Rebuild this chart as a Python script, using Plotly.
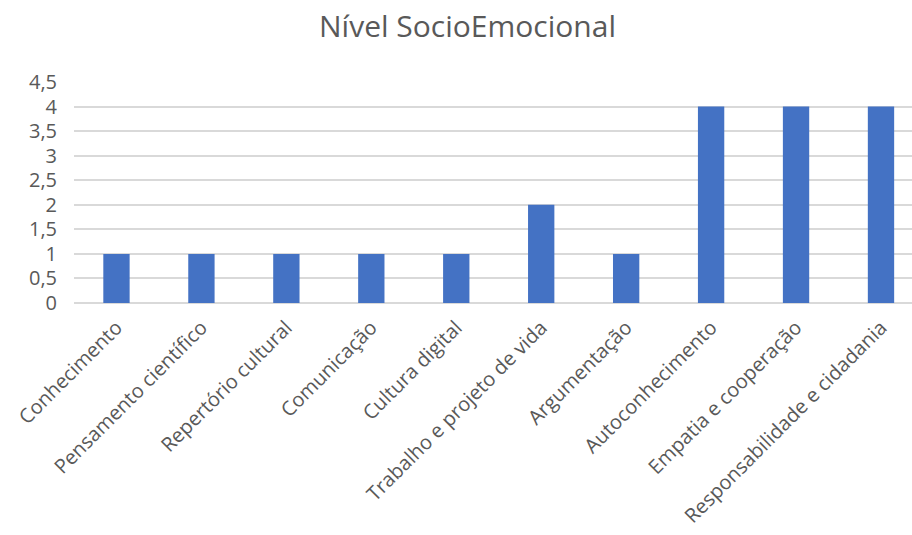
import plotly.graph_objects as go

categories = ["Conhecimento", "Pensamento científico", "Repertório cultural", "Comunicação",
              "Cultura digital", "Trabalho e projeto de vida", "Argumentação",
              "Autoconhecimento", "Empatia e cooperação", "Responsabilidade e cidadania"]
values = [1, 1, 1, 1, 1, 2, 1, 4, 4, 4]
y_tick_vals = [0, 0.5, 1, 1.5, 2, 2.5, 3, 3.5, 4, 4.5]
y_tick_text = ["0", "0,5", "1", "1,5", "2", "2,5", "3", "3,5", "4", "4,5"]

FONT = "Open Sans"
TXT = "#595959"

fig = go.Figure(go.Bar(x=categories, y=values, marker=dict(color="#4472C4", line=dict(width=0))))

fig.update_layout(
    width=912, height=535,
    margin=dict(l=74, r=0, t=82, b=232, autoexpand=False),
    paper_bgcolor="white", plot_bgcolor="white",
    bargap=0.69,
    showlegend=False,
    title=dict(text="Nível SocioEmocional", x=0.5126, xanchor="center", xref="container",
               y=0.951, yanchor="middle", yref="container",
               font=dict(family=FONT, size=30, color=TXT)),
    font=dict(family=FONT, size=20, color=TXT),
)
fig.update_xaxes(range=[-0.5, 9.365], tickangle=-45, showgrid=False, showline=False,
                 ticks="", ticklabelstandoff=8,
                 tickfont=dict(family=FONT, size=20, color=TXT), automargin=False)
fig.update_yaxes(range=[0, 4.5], tickvals=y_tick_vals, ticktext=y_tick_text,
                 showgrid=True, gridcolor="#D9D9D9", gridwidth=1.5,
                 zeroline=True, zerolinecolor="#D9D9D9", zerolinewidth=1.5,
                 showline=False, ticks="", ticklabelstandoff=16,
                 tickfont=dict(family=FONT, size=20, color=TXT), automargin=False)

fig.write_html("out.html")
